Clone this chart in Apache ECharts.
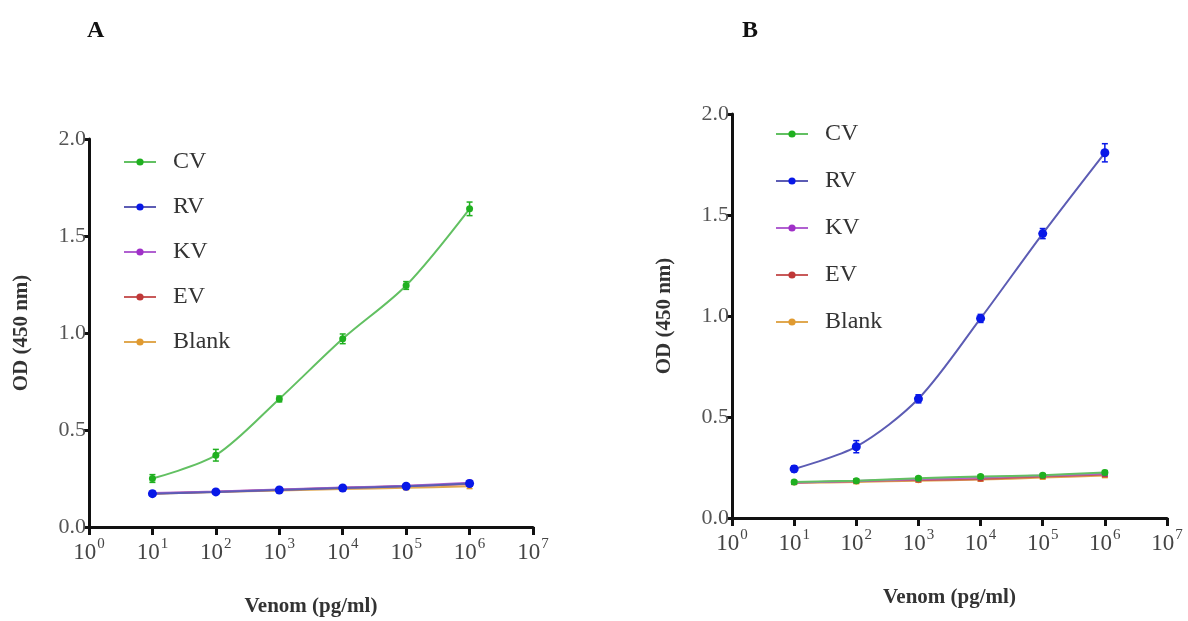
<!DOCTYPE html>
<html>
<head>
<meta charset="utf-8">
<script src="https://cdn.jsdelivr.net/npm/echarts@6/dist/echarts.min.js"></script>
<style>
  html, body { margin: 0; padding: 0; background: #fff; }
  #main { width: 1188px; height: 621px; }
</style>
</head>
<body>
<div id="main"></div>
<script>
// venom concentration (pg/ml)
var doses = [10, 100, 1000, 10000, 100000, 1000000];
var names = ['CV', 'RV', 'KV', 'EV', 'Blank'];

// panel A: OD values
var cvA = [0.25, 0.37, 0.66, 0.97, 1.245, 1.64];
var rvA = [0.172, 0.181, 0.191, 0.201, 0.21, 0.224];
var kvA = [0.175, 0.183, 0.193, 0.203, 0.213, 0.228];
var evA = [0.173, 0.182, 0.192, 0.202, 0.211, 0.222];
var blankA = [0.172, 0.18, 0.188, 0.196, 0.202, 0.21];
var cvAErr = [0.02, 0.03, 0.015, 0.025, 0.02, 0.035];
var lowAErr = [0.01, 0.01, 0.01, 0.01, 0.01, 0.012];

// panel B
var cvB = [0.178, 0.185, 0.197, 0.205, 0.212, 0.225];
var rvB = [0.243, 0.353, 0.59, 0.988, 1.408, 1.808];
var kvB = [0.176, 0.183, 0.193, 0.2, 0.21, 0.22];
var evB = [0.175, 0.182, 0.188, 0.193, 0.205, 0.215];
var blankB = [0.174, 0.178, 0.185, 0.19, 0.2, 0.21];
var rvBErr = [0.015, 0.03, 0.02, 0.02, 0.025, 0.045];
var lowBErr = [0.008, 0.008, 0.008, 0.008, 0.008, 0.01];

var lineColors = { CV: '#62c062', RV: '#5c5cb4', KV: '#b060d0', EV: '#c85a5a', Blank: '#e0a850' };
var dotColors = { CV: '#20b020', RV: '#0818e8', KV: '#a030c8', EV: '#c03838', Blank: '#e09a30' };
var dotSizes = { CV: 7, RV: 9, KV: 5, EV: 5, Blank: 5 };

var serif = '"Liberation Serif", "Times New Roman", serif';

var chart = echarts.init(document.getElementById('main'));

function pairs(vals) {
    return doses.map(function (d, i) { return [d, vals[i]]; });
}

function lineSeries(name, vals, idx, z) {
    return {
        name: name,
        type: 'line',
        xAxisIndex: idx,
        yAxisIndex: idx,
        data: pairs(vals),
        smooth: 0.3,
        symbol: 'circle',
        symbolSize: dotSizes[name],
        z: z,
        lineStyle: { color: lineColors[name], width: 2 },
        itemStyle: { color: dotColors[name] }
    };
}

function errSeries(name, vals, errs, idx, z) {
    return {
        name: name + ' err',
        type: 'custom',
        xAxisIndex: idx,
        yAxisIndex: idx,
        z: z,
        data: doses.map(function (d, i) { return [d, vals[i] - errs[i], vals[i] + errs[i]]; }),
        renderItem: function (params, api) {
            var lo = api.coord([api.value(0), api.value(1)]);
            var hi = api.coord([api.value(0), api.value(2)]);
            var w = 3;
            var st = { stroke: dotColors[name], lineWidth: 1.5 };
            return {
                type: 'group',
                children: [
                    { type: 'line', shape: { x1: lo[0], y1: lo[1], x2: hi[0], y2: hi[1] }, style: st },
                    { type: 'line', shape: { x1: lo[0] - w, y1: lo[1], x2: lo[0] + w, y2: lo[1] }, style: st },
                    { type: 'line', shape: { x1: hi[0] - w, y1: hi[1], x2: hi[0] + w, y2: hi[1] }, style: st }
                ]
            };
        }
    };
}

function xAxisFor(idx) {
    return {
        type: 'log',
        gridIndex: idx,
        logBase: 10,
        min: 1,
        max: 10000000,
        splitNumber: 7,
        name: 'Venom (pg/ml)',
        nameLocation: 'middle',
        nameGap: 69,
        nameTextStyle: { fontFamily: serif, fontWeight: 'bold', fontSize: 21, color: '#333' },
        axisLine: { lineStyle: { color: '#111', width: 3 } },
        axisTick: { length: 8, lineStyle: { color: '#111', width: 3 } },
        minorTick: { show: false },
        splitLine: { show: false },
        axisLabel: {
            margin: 10,
            formatter: function (v) {
                return '{b|10}{s|' + Math.round(Math.log10(v)) + '}';
            },
            rich: {
                b: { fontFamily: serif, fontSize: 23, color: '#444' },
                s: { fontFamily: serif, fontSize: 15, color: '#444', padding: [0, 0, 16, 1] }
            }
        }
    };
}

function yAxisFor(idx) {
    return {
        type: 'value',
        gridIndex: idx,
        min: 0,
        max: 2,
        interval: 0.5,
        name: 'OD (450 nm)',
        nameLocation: 'middle',
        nameGap: 57,
        nameTextStyle: { fontFamily: serif, fontWeight: 'bold', fontSize: 21, color: '#333' },
        axisLine: { show: true, lineStyle: { color: '#111', width: 3 } },
        axisTick: { show: true, length: 5, lineStyle: { color: '#111', width: 3 } },
        splitLine: { show: false },
        axisLabel: {
            margin: 3,
            fontFamily: serif,
            fontSize: 22,
            color: '#555',
            formatter: function (v) { return v.toFixed(1); }
        }
    };
}

function legendFor(left, top, gap) {
    return {
        orient: 'vertical',
        left: left,
        top: top,
        itemWidth: 32,
        itemHeight: 9,
        itemGap: gap,
        data: names,
        textStyle: { fontFamily: serif, fontSize: 24, color: '#333', padding: [0, 0, 0, 12] }
    };
}

var seriesA = [
    lineSeries('Blank', blankA, 0, 2), errSeries('Blank', blankA, lowAErr, 0, 2),
    lineSeries('EV', evA, 0, 3), errSeries('EV', evA, lowAErr, 0, 3),
    lineSeries('KV', kvA, 0, 4), errSeries('KV', kvA, lowAErr, 0, 4),
    lineSeries('RV', rvA, 0, 5), errSeries('RV', rvA, lowAErr, 0, 5),
    lineSeries('CV', cvA, 0, 6), errSeries('CV', cvA, cvAErr, 0, 6)
];
var seriesB = [
    lineSeries('Blank', blankB, 1, 2), errSeries('Blank', blankB, lowBErr, 1, 2),
    lineSeries('EV', evB, 1, 3), errSeries('EV', evB, lowBErr, 1, 3),
    lineSeries('KV', kvB, 1, 4), errSeries('KV', kvB, lowBErr, 1, 4),
    lineSeries('CV', cvB, 1, 5), errSeries('CV', cvB, lowBErr, 1, 5),
    lineSeries('RV', rvB, 1, 6), errSeries('RV', rvB, rvBErr, 1, 6)
];

chart.setOption({
    animation: false,
    title: [
        { text: 'A', left: 82, top: 14, textStyle: { fontFamily: serif, fontWeight: 'bold', fontSize: 24, color: '#111' } },
        { text: 'B', left: 737, top: 14, textStyle: { fontFamily: serif, fontWeight: 'bold', fontSize: 24, color: '#111' } }
    ],
    legend: [legendFor(118, 145, 21), legendFor(770, 117, 23)],
    grid: [
        { left: 89, top: 139, width: 444, height: 388, outerBoundsMode: 'none' },
        { left: 732, top: 114, width: 435, height: 404, outerBoundsMode: 'none' }
    ],
    xAxis: [xAxisFor(0), xAxisFor(1)],
    yAxis: [yAxisFor(0), yAxisFor(1)],
    series: seriesA.concat(seriesB)
});
</script>
</body>
</html>
